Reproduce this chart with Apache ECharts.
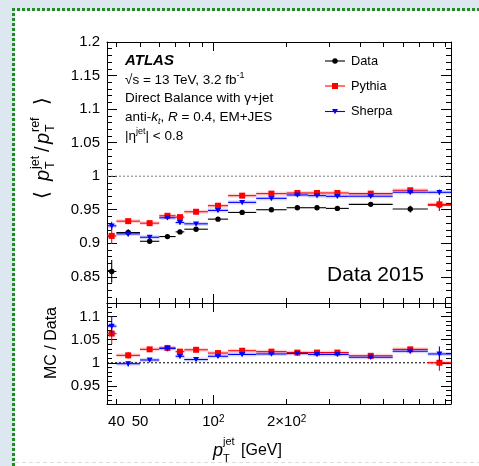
<!DOCTYPE html>
<html><head><meta charset="utf-8">
<script src="https://cdn.jsdelivr.net/npm/echarts@6.0.0/dist/echarts.min.js"></script>
<style>
html,body{margin:0;padding:0;width:479px;height:466px;overflow:hidden;background:#dde7f0;}
#paper{position:absolute;left:15px;top:11px;width:464px;height:455px;background:#fff;}
#bt{position:absolute;left:12px;top:8px;width:467px;height:3px;background:repeating-linear-gradient(to right,#228b22 0 3px,transparent 3px 5px);}
#bl{position:absolute;left:12px;top:8px;width:3px;height:458px;background:repeating-linear-gradient(to bottom,#228b22 0 3px,transparent 3px 5px);}
#bb{position:absolute;left:15px;top:462px;width:464px;height:1px;background:repeating-linear-gradient(to right,#dcdcdc 0 4px,transparent 4px 7px);}
#c{position:absolute;left:0;top:0;width:479px;height:466px;}
</style></head><body>
<div id="paper"></div><div id="bt"></div><div id="bl"></div><div id="bb"></div>
<div id="c"></div>
<script>
// ---------- data ----------
const binEdges = [36.6, 40, 50, 60, 70, 76, 95, 115, 150, 200, 245, 290, 360, 545, 760, 946];
const dataVal   = [0.858, 0.916, 0.903, 0.910, 0.917, 0.921, 0.936, 0.946, 0.950, 0.953, 0.953, 0.952, 0.958, 0.951, 0.957];
const dataErr   = [0.017, 0.005, 0.004, 0.003, 0.003, 0.002, 0.002, 0.002, 0.002, 0.002, 0.002, 0.002, 0.002, 0.005, 0.008];
const pythiaVal = [0.911, 0.933, 0.930, 0.941, 0.939, 0.947, 0.956, 0.971, 0.974, 0.975, 0.975, 0.975, 0.974, 0.979, 0.958];
const pythiaErr = [0.012, 0.003, 0.003, 0.003, 0.003, 0.002, 0.002, 0.002, 0.002, 0.002, 0.002, 0.002, 0.002, 0.003, 0.010];
const sherpaVal = [0.926, 0.914, 0.909, 0.938, 0.931, 0.929, 0.949, 0.961, 0.967, 0.972, 0.971, 0.970, 0.970, 0.976, 0.976];
const sherpaErr = [0.006, 0.004, 0.003, 0.003, 0.003, 0.002, 0.002, 0.002, 0.002, 0.002, 0.002, 0.002, 0.002, 0.003, 0.004];
const pythiaRatio    = [1.063, 1.016, 1.029, 1.032, 1.024, 1.028, 1.021, 1.026, 1.024, 1.022, 1.022, 1.022, 1.015, 1.029, 1.000];
const pythiaRatioErr = [0.023, 0.007, 0.005, 0.005, 0.004, 0.003, 0.003, 0.003, 0.003, 0.003, 0.003, 0.003, 0.003, 0.005, 0.017];
const sherpaRatio    = [1.079, 0.998, 1.006, 1.031, 1.014, 1.007, 1.014, 1.018, 1.019, 1.020, 1.018, 1.018, 1.012, 1.025, 1.019];
const sherpaRatioErr = [0.022, 0.006, 0.004, 0.006, 0.004, 0.003, 0.003, 0.003, 0.003, 0.003, 0.003, 0.003, 0.003, 0.005, 0.016];
const seriesNames = ['Data', 'Pythia', 'Sherpa'];
// ---------- axes / ticks ----------
const X_MIN = 36.6, X_MAX = 946;
const Y_MAIN = [0.811, 1.2];
const Y_RATIO = [0.911, 1.129];
const xMajorTicks = [100];
const xMinorTicks = [40, 50, 60, 70, 80, 90, 200, 300, 400, 500, 600, 700, 800, 900];
const xTickLabelValues = [40, 50, 100, 200];
const xTickLabels = ['40', '50', '10{s|2}', '2×10{s|2}'];
const yMainTicks = [0.85, 0.9, 0.95, 1, 1.05, 1.1, 1.15, 1.2];
const yRatioTicks = [0.95, 1, 1.05, 1.1];

function minorList(lo, hi, majors) {
  const out = [];
  for (let k = Math.ceil(lo * 100); k <= Math.floor(hi * 100); k++) {
    const v = +(k / 100).toFixed(2);
    if (!majors.some(m => Math.abs(m - v) < 1e-9)) out.push(v);
  }
  return out;
}
const yMainMinor = minorList(Y_MAIN[0], Y_MAIN[1], yMainTicks);
const yRatioMinor = minorList(Y_RATIO[0], Y_RATIO[1], yRatioTicks);

const FONT = '"Liberation Sans", Arial, Helvetica, sans-serif';
const mainRect = {left: 107, top: 42, width: 344, height: 261};
const ratioRect = {left: 107, top: 303, width: 344, height: 101};

function xAx(grid, pos, ticks, len, showLine, labels) {
  return {
    type: 'log', logBase: 10, gridIndex: grid, position: pos, min: X_MIN, max: X_MAX,
    axisLine: {show: showLine, onZero: false, lineStyle: {color: '#000', width: 1}},
    axisTick: {show: true, inside: true, length: len, customValues: ticks, lineStyle: {color: '#000', width: 1}},
    axisLabel: labels ? {
      show: true, customValues: xTickLabelValues, margin: 10, color: '#000', fontSize: 15, fontFamily: FONT,
      formatter: v => { const i = xTickLabelValues.findIndex(t => Math.abs(t - v) / t < 1e-6); return i >= 0 ? xTickLabels[i] : ''; },
      rich: {s: {fontSize: 10, fontFamily: FONT, color: '#000', verticalAlign: 'top', lineHeight: 10}}
    } : {show: false},
    splitLine: {show: false}, minorTick: {show: false}, minorSplitLine: {show: false}
  };
}
function yAx(grid, pos, range, ticks, len, showLine, labels) {
  return {
    type: 'value', gridIndex: grid, position: pos, min: range[0], max: range[1],
    axisLine: {show: showLine, onZero: false, lineStyle: {color: '#000', width: 1}},
    axisTick: {show: true, inside: true, length: len, customValues: ticks, lineStyle: {color: '#000', width: 1}},
    axisLabel: labels ? {show: true, customValues: ticks, margin: 7, color: '#000', fontSize: 15, fontFamily: FONT,
      formatter: v => String(+(+v).toFixed(2))} : {show: false},
    splitLine: {show: false}, minorTick: {show: false}, minorSplitLine: {show: false}
  };
}

function markerShape(kind, cx, cy, color) {
  if (kind === 'circle') return {type: 'circle', shape: {cx, cy, r: 2.7}, style: {fill: color}};
  if (kind === 'square') return {type: 'rect', shape: {x: cx - 3, y: cy - 3, width: 6, height: 6}, style: {fill: color}};
  return {type: 'polygon', shape: {points: [[cx - 3, cy - 2.4], [cx + 3, cy - 2.4], [cx, cy + 2.8]]}, style: {fill: color}};
}

function errSeries(name, vals, errs, color, marker, axisIdx, band) {
  return {
    type: 'custom', name, xAxisIndex: axisIdx, yAxisIndex: axisIdx, clip: false, z: 5,
    data: vals.map((v, i) => [binEdges[i], binEdges[i + 1], v, errs[i]]),
    encode: {x: [0, 1], y: [2]},
    renderItem(params, api) {
      const lo = api.value(0), hi = api.value(1), v = api.value(2), e = api.value(3);
      const xc = Math.sqrt(lo * hi);
      const pL = api.coord([lo, v]), pR = api.coord([hi, v]), pc = api.coord([xc, v]);
      const pT = api.coord([xc, v + e]), pB = api.coord([xc, v - e]);
      const ch = [];
      if (band) ch.push({type: 'rect', shape: {x: pL[0], y: pc[1] - 2, width: pR[0] - pL[0], height: 4}, style: {fill: band}});
      ch.push({type: 'line', shape: {x1: pL[0], y1: pc[1], x2: pR[0], y2: pc[1]}, style: {stroke: color, lineWidth: 1.1}});
      ch.push({type: 'line', shape: {x1: pc[0], y1: pT[1], x2: pc[0], y2: pB[1]}, style: {stroke: color, lineWidth: 1.1}});
      ch.push(markerShape(marker, pc[0], pc[1], color));
      return {type: 'group', children: ch};
    }
  };
}

function refLine(axisIdx, color) {
  return {type: 'line', xAxisIndex: axisIdx, yAxisIndex: axisIdx, data: [[X_MIN, 1], [X_MAX, 1]],
    symbol: 'none', silent: true, z: 3, lineStyle: {color, width: 1, type: [2, 2]}};
}

const COLORS = ['#000000', '#ff0000', '#0000ff'];
const MARKERS = ['circle', 'square', 'triangle'];

// ---------- graphic texts ----------
const T = (x, y, text, font, extra) => Object.assign({type: 'text', x, y, z: 10,
  style: Object.assign({text, font, fill: '#000', verticalAlign: 'middle'}, extra || {})});
const supS = {fontSize: 9, fontFamily: FONT, fill: '#000', verticalAlign: 'top', lineHeight: 9};
const subS = {fontSize: 9, fontFamily: FONT, fill: '#000', verticalAlign: 'bottom', lineHeight: 9};

const graphics = [
  T(125, 61, 'ATLAS', 'italic bold 15px ' + FONT),
  T(125, 80, '√s = 13 TeV, 3.2 fb{sup|-1}', '13.5px ' + FONT, {rich: {sup: supS}, lineHeight: 17}),
  T(125, 98.5, 'Direct Balance with γ+jet', '13.5px ' + FONT),
  T(125, 117.5, 'anti-{it|k}{sub|t}, {it|R} = 0.4, EM+JES', '13.5px ' + FONT,
    {rich: {it: {fontSize: 13.5, fontStyle: 'italic', fontFamily: FONT, fill: '#000'}, sub: Object.assign({}, subS, {fontStyle: 'italic'})}, lineHeight: 17}),
  T(125, 136, '|η{sup|jet}| < 0.8', '13.5px ' + FONT, {rich: {sup: supS}, lineHeight: 17}),
  T(424, 275, 'Data 2015', '21px ' + FONT, {align: 'right'})
];
// legend
const legY = [61, 86, 111.5];
seriesNames.forEach((n, i) => {
  graphics.push({type: 'line', z: 10, shape: {x1: 325, y1: legY[i], x2: 345, y2: legY[i]}, style: {stroke: COLORS[i], lineWidth: 1.1}});
  graphics.push(Object.assign({z: 10}, markerShape(MARKERS[i], 335, legY[i], COLORS[i])));
  graphics.push(T(351, legY[i], n, '12.8px ' + FONT));
});
// y titles (rotated)
const tt = (x, y, text, font) => ({type: 'text', x, y, style: {text, font, fill: '#000', verticalAlign: 'middle'}});
graphics.push({type: 'group', x: 43, y: 142, rotation: Math.PI / 2, z: 10, children: [
  tt(-57, 0, '⟨', '20px "DejaVu Sans"'),
  tt(-39, 0, 'p', 'italic 20px ' + FONT),
  tt(-27, -7.5, 'jet', '12.5px ' + FONT),
  tt(-27, 7.5, 'T', '12.5px ' + FONT),
  tt(-10, 0, '/', '20px ' + FONT),
  tt(-2, 0, 'p', 'italic 20px ' + FONT),
  tt(10, -7.5, 'ref', '12.5px ' + FONT),
  tt(10, 7.5, 'T', '12.5px ' + FONT),
  tt(37, 0, '⟩', '20px "DejaVu Sans"')
]});
graphics.push({type: 'group', x: 52, y: 343, rotation: Math.PI / 2, z: 10, children: [
  {type: 'text', x: 0, y: 0, style: {text: 'MC / Data', font: '16px ' + FONT, fill: '#000', align: 'center', verticalAlign: 'middle'}}
]});
// x title
graphics.push(T(213, 451, 'p', 'italic 18px ' + FONT));
graphics.push(T(223, 442, 'jet', '11px ' + FONT));
graphics.push(T(223, 459, 'T', '11px ' + FONT));
graphics.push(T(241, 451, '[GeV]', '16px ' + FONT));

const option = {
  animation: false,
  backgroundColor: 'transparent',
  grid: [
    Object.assign({}, mainRect), Object.assign({}, mainRect),
    Object.assign({}, ratioRect), Object.assign({}, ratioRect)
  ],
  xAxis: [
    xAx(0, 'bottom', xMajorTicks, 9, true, false), xAx(0, 'top', xMajorTicks, 9, true, false),
    xAx(1, 'bottom', xMinorTicks, 5, false, false), xAx(1, 'top', xMinorTicks, 5, false, false),
    xAx(2, 'bottom', xMajorTicks, 9, true, true), xAx(2, 'top', xMajorTicks, 9, true, false),
    xAx(3, 'bottom', xMinorTicks, 5, false, false), xAx(3, 'top', xMinorTicks, 5, false, false)
  ],
  yAxis: [
    yAx(0, 'left', Y_MAIN, yMainTicks, 10, true, true), yAx(0, 'right', Y_MAIN, yMainTicks, 10, true, false),
    yAx(1, 'left', Y_MAIN, yMainMinor, 5, false, false), yAx(1, 'right', Y_MAIN, yMainMinor, 5, false, false),
    yAx(2, 'left', Y_RATIO, yRatioTicks, 10, true, true), yAx(2, 'right', Y_RATIO, yRatioTicks, 10, true, false),
    yAx(3, 'left', Y_RATIO, yRatioMinor, 5, false, false), yAx(3, 'right', Y_RATIO, yRatioMinor, 5, false, false)
  ],
  series: [
    refLine(0, '#777'),
    refLine(4, '#000'),
    errSeries('Data', dataVal, dataErr, COLORS[0], MARKERS[0], 0, null),
    errSeries('Pythia', pythiaVal, pythiaErr, COLORS[1], MARKERS[1], 0, 'rgba(255,0,0,0.16)'),
    errSeries('Sherpa', sherpaVal, sherpaErr, COLORS[2], MARKERS[2], 0, 'rgba(0,0,255,0.16)'),
    errSeries('Pythia', pythiaRatio, pythiaRatioErr, COLORS[1], MARKERS[1], 4, 'rgba(255,0,0,0.16)'),
    errSeries('Sherpa', sherpaRatio, sherpaRatioErr, COLORS[2], MARKERS[2], 4, 'rgba(0,0,255,0.16)')
  ],
  graphic: graphics
};
const chart = echarts.init(document.getElementById('c'), null, {renderer: 'canvas', width: 479, height: 466});
chart.setOption(option);
</script></body></html>
